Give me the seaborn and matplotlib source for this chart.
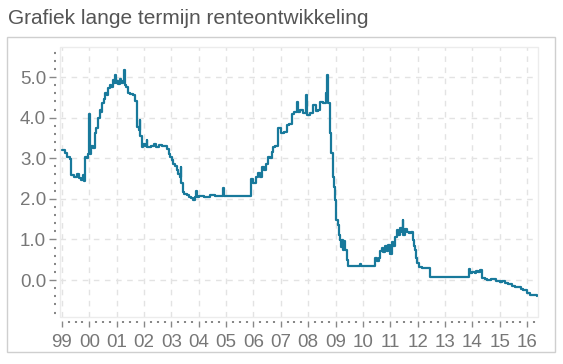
import matplotlib
matplotlib.use("Agg")
import matplotlib.pyplot as plt
from matplotlib.patches import Rectangle
from matplotlib.ticker import MultipleLocator, FixedLocator
import seaborn as sns
import pandas as pd

title = "Grafiek lange termijn renteontwikkeling"

years = [
    1999.00, 1999.10, 1999.20, 1999.30, 1999.33, 1999.45, 1999.55, 1999.62, 1999.70, 1999.76,
    1999.80, 1999.84, 1999.90, 1999.95, 2000.00, 2000.02, 2000.08, 2000.14, 2000.20, 2000.26,
    2000.32, 2000.38, 2000.42, 2000.45, 2000.52, 2000.57, 2000.63, 2000.68, 2000.75, 2000.80,
    2000.88, 2000.92, 2000.95, 2000.97, 2001.02, 2001.06, 2001.12, 2001.16, 2001.22, 2001.27,
    2001.29, 2001.35, 2001.42, 2001.50, 2001.60, 2001.66, 2001.73, 2001.76, 2001.80, 2001.84,
    2001.86, 2001.91, 2001.98, 2002.05, 2002.10, 2002.12, 2002.25, 2002.35, 2002.45, 2002.55,
    2002.65, 2002.75, 2002.83, 2002.90, 2002.95, 2003.02, 2003.06, 2003.12, 2003.19, 2003.25,
    2003.30, 2003.34, 2003.36, 2003.41, 2003.48, 2003.56, 2003.65, 2003.72, 2003.80, 2003.85,
    2003.90, 2003.92, 2004.00, 2004.20, 2004.40, 2004.60, 2004.85, 2004.90, 2004.93, 2005.10,
    2005.40, 2005.60, 2005.87, 2005.90, 2006.00, 2006.10, 2006.17, 2006.25, 2006.30, 2006.40,
    2006.45, 2006.53, 2006.60, 2006.68, 2006.73, 2006.80, 2006.88, 2006.91, 2007.00, 2007.10,
    2007.21, 2007.30, 2007.40, 2007.50, 2007.58, 2007.62, 2007.70, 2007.80, 2007.92, 2007.95,
    2008.05, 2008.19, 2008.28, 2008.36, 2008.43, 2008.55, 2008.64, 2008.68, 2008.72, 2008.78,
    2008.84, 2008.90, 2008.94, 2008.98, 2009.02, 2009.08, 2009.12, 2009.16, 2009.20, 2009.24,
    2009.28, 2009.32, 2009.36, 2009.41, 2009.47, 2009.90, 2009.93, 2010.38, 2010.44, 2010.52,
    2010.60, 2010.64, 2010.69, 2010.75, 2010.82, 2010.88, 2010.93, 2010.98, 2011.05, 2011.10,
    2011.17, 2011.24, 2011.30, 2011.36, 2011.42, 2011.46, 2011.48, 2011.54, 2011.60, 2011.70,
    2011.76, 2011.82, 2011.87, 2011.91, 2011.95, 2011.99, 2012.05, 2012.15, 2012.39, 2012.45,
    2013.80, 2013.86, 2013.92, 2014.00, 2014.08, 2014.15, 2014.22, 2014.28, 2014.34, 2014.45,
    2014.53, 2014.70, 2014.85, 2015.00, 2015.10, 2015.20, 2015.30, 2015.44, 2015.55, 2015.68,
    2015.78, 2015.86, 2015.98, 2016.10, 2016.35,
]

rates = [
    3.20, 3.12, 3.04, 2.98, 2.58, 2.55, 2.62, 2.52, 2.46, 2.58,
    2.45, 3.04, 3.00, 3.10, 4.10, 3.10, 3.30, 3.25, 3.62, 3.75,
    4.00, 4.20, 4.15, 4.36, 4.45, 4.60, 4.55, 4.72, 4.80, 4.75,
    4.93, 4.85, 5.05, 4.85, 4.90, 4.82, 4.95, 4.85, 4.90, 5.17,
    4.80, 4.75, 4.60, 4.58, 4.55, 4.42, 4.27, 3.78, 3.70, 3.94,
    3.55, 3.28, 3.35, 3.30, 3.45, 3.28, 3.30, 3.35, 3.28, 3.32,
    3.30, 3.30, 3.22, 3.10, 3.04, 2.95, 2.87, 2.80, 2.71, 2.62,
    2.54, 2.79, 2.40, 2.17, 2.12, 2.09, 2.05, 2.02, 1.97, 2.05,
    2.20, 2.05, 2.08, 2.05, 2.09, 2.06, 2.08, 2.26, 2.08, 2.06,
    2.08, 2.07, 2.07, 2.50, 2.40, 2.55, 2.63, 2.55, 2.79, 2.70,
    2.85, 3.04, 3.00, 3.15, 3.28, 3.30, 3.45, 3.74, 3.62, 3.65,
    3.82, 3.85, 4.10, 4.15, 4.39, 4.15, 4.20, 4.12, 4.56, 4.06,
    4.12, 4.31, 4.16, 4.20, 4.39, 4.35, 4.60, 5.05, 4.36, 3.62,
    3.12, 2.54, 2.30, 1.97, 1.48, 1.35, 1.10, 0.99, 0.82, 0.98,
    0.75, 0.95, 0.74, 0.49, 0.34, 0.40, 0.34, 0.34, 0.54, 0.48,
    0.55, 0.72, 0.79, 0.68, 0.84, 0.72, 0.86, 0.65, 0.94, 0.85,
    1.07, 1.23, 1.10, 1.27, 1.18, 1.48, 1.11, 1.25, 1.19, 1.15,
    1.19, 0.99, 0.85, 0.74, 0.55, 0.41, 0.33, 0.29, 0.29, 0.08,
    0.08, 0.26, 0.18, 0.20, 0.17, 0.22, 0.20, 0.24, 0.04, 0.02,
    0.00, 0.02, -0.02, -0.04, -0.02, -0.08, -0.10, -0.15, -0.16, -0.18,
    -0.22, -0.25, -0.31, -0.37, -0.39,
]

year_ticks = list(range(1999, 2017))
year_labels = ["99", "00", "01", "02", "03", "04", "05", "06", "07", "08",
               "09", "10", "11", "12", "13", "14", "15", "16"]
y_ticks = [0, 1, 2, 3, 4, 5]
y_labels = ["0.0", "1.0", "2.0", "3.0", "4.0", "5.0"]

df = pd.DataFrame({"jaar": years, "rente": rates})

sns.set_theme(style="white")
plt.rcParams["font.family"] = ["Liberation Sans", "DejaVu Sans"]

W, H = 563, 364
fig = plt.figure(figsize=(W / 100, H / 100), dpi=100)
fig.patch.set_facecolor("white")

# outer box
fig.patches.append(Rectangle((7 / W, 1 - 352 / H), 548 / W, 315 / H,
                             transform=fig.transFigure, fill=False,
                             edgecolor="#cfcfcf", linewidth=1.0))
fig.text(8 / W, 1 - 18 / H, title, fontsize=15, color="#555555",
         ha="left", va="center")

ax = fig.add_axes([60 / W, 1 - 317 / H, 478 / W, 270 / H])
sns.lineplot(data=df, x="jaar", y="rente", ax=ax, color="#18799b",
             linewidth=1.6, drawstyle="steps-post", estimator=None)

ax.set_xlim(1998.93, 2016.40)
ax.set_ylim(-0.91, 5.74)
ax.set_xlabel("")
ax.set_ylabel("")

ax.xaxis.set_major_locator(FixedLocator(year_ticks))
ax.set_xticklabels(year_labels)
ax.xaxis.set_minor_locator(MultipleLocator(0.25))
ax.yaxis.set_major_locator(FixedLocator(y_ticks))
ax.set_yticklabels(y_labels)
ax.yaxis.set_minor_locator(MultipleLocator(0.2))

for s in ["top", "right"]:
    ax.spines[s].set_visible(False)
for s in ["left", "bottom"]:
    ax.spines[s].set_color("none")
    ax.spines[s].set_position(("outward", 3))

ax.tick_params(axis="both", which="major", colors="#888888", labelcolor="#777777",
               labelsize=13.5, direction="out")
ax.tick_params(axis="y", which="major", length=5, width=1, pad=2)
ax.tick_params(axis="y", which="minor", length=1.5, width=1.5, colors="#888888")
ax.tick_params(axis="x", which="major", length=4, width=1, pad=5)
ax.tick_params(axis="x", which="minor", length=1.5, width=1.5, colors="#888888")
ax.tick_params(axis="both", which="both", bottom=True, left=True)

ax.grid(True, which="major", color="#e3e3e3", linestyle=(0, (4, 4)), linewidth=1)
ax.set_axisbelow(True)
ax.add_patch(Rectangle((0, 0), 1, 1, transform=ax.transAxes, fill=False,
                       edgecolor="#ececec", linewidth=1, clip_on=False))

fig.savefig("out.png", dpi=100)
